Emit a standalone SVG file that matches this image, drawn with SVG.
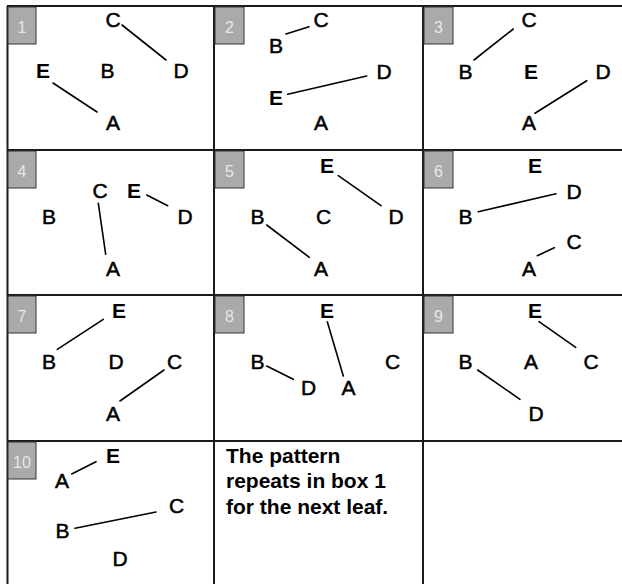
<svg xmlns="http://www.w3.org/2000/svg" width="622" height="584" viewBox="0 0 622 584">
<style>
.grid{stroke:#1a1a1a;stroke-width:2;fill:none}
.nb{fill:#aaaaaa;stroke:#333;stroke-width:1}
.nt{font-family:"Liberation Sans",Arial,sans-serif;font-size:16px;fill:#e8e8e8;text-anchor:middle}
.l{font-family:"Liberation Sans",Arial,sans-serif;font-size:21px;fill:#000;stroke:#000;stroke-width:0.5;text-anchor:middle}
.e{font-family:"Liberation Sans",Arial,sans-serif;font-size:21px;font-weight:bold;fill:#000;text-anchor:middle}
.c line{stroke:#000;stroke-width:1.6;stroke-linecap:round}
.note{font-family:"Liberation Sans",Arial,sans-serif;font-size:21px;font-weight:bold;fill:#000}
</style>
<rect width="622" height="584" fill="#fff"/>
<g id="grid" class="grid">
<line x1="7.5" y1="6" x2="7.5" y2="584"/>
<line x1="214" y1="6" x2="214" y2="584"/>
<line x1="423" y1="6" x2="423" y2="584"/>
<line x1="7" y1="6" x2="622" y2="6"/>
<line x1="7" y1="150" x2="622" y2="150"/>
<line x1="7" y1="295" x2="622" y2="295"/>
<line x1="7" y1="441" x2="622" y2="441"/>
</g>
<g id="box1">
<rect class="nb" x="8" y="7" width="28" height="37"/><text class="nt" x="22" y="33">1</text>
<g id="b1-C"><text class="l" x="113" y="27">C</text></g>
<g id="b1-E"><text class="e" x="43" y="78">E</text></g>
<g id="b1-B"><text class="l" x="107.5" y="78">B</text></g>
<g id="b1-D"><text class="l" x="181" y="78">D</text></g>
<g id="b1-A"><text class="l" x="113" y="130">A</text></g>
</g>
<g id="box2">
<rect class="nb" x="215" y="7" width="29" height="37"/><text class="nt" x="229.5" y="33">2</text>
<g id="b2-C"><text class="l" x="321" y="27">C</text></g>
<g id="b2-B"><text class="l" x="276" y="53">B</text></g>
<g id="b2-D"><text class="l" x="384" y="79">D</text></g>
<g id="b2-E"><text class="e" x="276" y="105">E</text></g>
<g id="b2-A"><text class="l" x="321" y="130">A</text></g>
</g>
<g id="box3">
<rect class="nb" x="424" y="7" width="29" height="37"/><text class="nt" x="438.5" y="33">3</text>
<g id="b3-C"><text class="l" x="529" y="27">C</text></g>
<g id="b3-B"><text class="l" x="465.5" y="79">B</text></g>
<g id="b3-E"><text class="e" x="531" y="79">E</text></g>
<g id="b3-D"><text class="l" x="603" y="79">D</text></g>
<g id="b3-A"><text class="l" x="529" y="130">A</text></g>
</g>
<g id="box4">
<rect class="nb" x="8" y="151" width="28" height="37"/><text class="nt" x="22" y="177">4</text>
<g id="b4-C"><text class="l" x="100" y="198">C</text></g>
<g id="b4-E"><text class="e" x="134" y="198">E</text></g>
<g id="b4-B"><text class="l" x="49" y="224">B</text></g>
<g id="b4-D"><text class="l" x="185" y="224">D</text></g>
<g id="b4-A"><text class="l" x="113" y="275.5">A</text></g>
</g>
<g id="box5">
<rect class="nb" x="215" y="151" width="29" height="37"/><text class="nt" x="229.5" y="177">5</text>
<g id="b5-E"><text class="e" x="327" y="173">E</text></g>
<g id="b5-B"><text class="l" x="257.5" y="224">B</text></g>
<g id="b5-C"><text class="l" x="323.5" y="224">C</text></g>
<g id="b5-D"><text class="l" x="396" y="224">D</text></g>
<g id="b5-A"><text class="l" x="321" y="275.5">A</text></g>
</g>
<g id="box6">
<rect class="nb" x="424" y="151" width="29" height="37"/><text class="nt" x="438.5" y="177">6</text>
<g id="b6-E"><text class="e" x="535" y="173">E</text></g>
<g id="b6-D"><text class="l" x="574" y="199">D</text></g>
<g id="b6-B"><text class="l" x="465.5" y="224">B</text></g>
<g id="b6-C"><text class="l" x="574" y="249">C</text></g>
<g id="b6-A"><text class="l" x="529" y="275.5">A</text></g>
</g>
<g id="box7">
<rect class="nb" x="8" y="296" width="28" height="37"/><text class="nt" x="22" y="322">7</text>
<g id="b7-E"><text class="e" x="119" y="318">E</text></g>
<g id="b7-B"><text class="l" x="49" y="369">B</text></g>
<g id="b7-D"><text class="l" x="116" y="369">D</text></g>
<g id="b7-C"><text class="l" x="174.5" y="369">C</text></g>
<g id="b7-A"><text class="l" x="113" y="420.5">A</text></g>
</g>
<g id="box8">
<rect class="nb" x="215" y="296" width="29" height="37"/><text class="nt" x="229.5" y="322">8</text>
<g id="b8-E"><text class="e" x="327" y="318">E</text></g>
<g id="b8-B"><text class="l" x="257.5" y="369">B</text></g>
<g id="b8-C"><text class="l" x="392.5" y="369">C</text></g>
<g id="b8-D"><text class="l" x="308.5" y="395">D</text></g>
<g id="b8-A"><text class="l" x="348.5" y="395">A</text></g>
</g>
<g id="box9">
<rect class="nb" x="424" y="296" width="29" height="37"/><text class="nt" x="438.5" y="322">9</text>
<g id="b9-E"><text class="e" x="535" y="318">E</text></g>
<g id="b9-B"><text class="l" x="465.5" y="369">B</text></g>
<g id="b9-A"><text class="l" x="531" y="369">A</text></g>
<g id="b9-C"><text class="l" x="591" y="369">C</text></g>
<g id="b9-D"><text class="l" x="536" y="420.5">D</text></g>
</g>
<g id="box10">
<rect class="nb" x="8" y="442" width="28" height="37"/><text class="nt" x="22" y="468">10</text>
<g id="b10-E"><text class="e" x="113" y="462.5">E</text></g>
<g id="b10-A"><text class="l" x="62" y="488">A</text></g>
<g id="b10-C"><text class="l" x="176.5" y="513">C</text></g>
<g id="b10-B"><text class="l" x="62.5" y="538">B</text></g>
<g id="b10-D"><text class="l" x="120" y="566">D</text></g>
</g>
<g id="note">
<text class="note" x="226" y="462.5">The pattern</text>
<text class="note" x="226" y="488">repeats in box 1</text>
<text class="note" x="226" y="513.5">for the next leaf.</text>
</g>
<g id="connectors" class="c">
<line x1="122" y1="25" x2="166" y2="60"/>
<line x1="53" y1="83" x2="97" y2="112"/>
<line x1="286" y1="34" x2="309" y2="26.7"/>
<line x1="287.7" y1="94.3" x2="366.7" y2="76"/>
<line x1="474" y1="60" x2="513.3" y2="29"/>
<line x1="535" y1="113.3" x2="586.7" y2="80.7"/>
<line x1="98.3" y1="203.3" x2="105.7" y2="254.3"/>
<line x1="146.7" y1="195" x2="167.7" y2="205.7"/>
<line x1="338.3" y1="175.7" x2="381" y2="205.7"/>
<line x1="266.7" y1="225" x2="309.3" y2="257.3"/>
<line x1="478.3" y1="211.7" x2="556" y2="193.7"/>
<line x1="537.3" y1="255.7" x2="554.3" y2="247.7"/>
<line x1="57.3" y1="349.3" x2="103.3" y2="319.3"/>
<line x1="120" y1="401" x2="164" y2="370"/>
<line x1="327.3" y1="321.7" x2="343.3" y2="376"/>
<line x1="266.7" y1="366" x2="293.3" y2="379.3"/>
<line x1="539" y1="321.7" x2="575.7" y2="347.3"/>
<line x1="477.7" y1="370" x2="520" y2="399.3"/>
<line x1="71.7" y1="474" x2="96" y2="461.7"/>
<line x1="75" y1="528.3" x2="156" y2="512"/>
</g>
</svg>
